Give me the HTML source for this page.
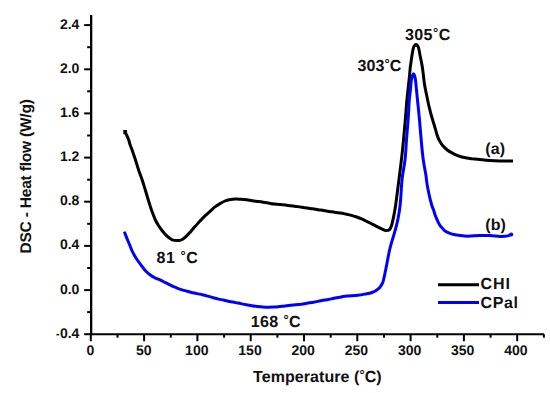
<!DOCTYPE html>
<html><head><meta charset="utf-8"><style>
html,body{margin:0;padding:0;background:#fff;width:550px;height:393px;overflow:hidden}
svg{display:block}
text{text-rendering:geometricPrecision;font-family:"Liberation Sans",sans-serif;fill:#111}
.t{font-size:14px;font-weight:bold}
.y{font-size:15.5px;font-weight:bold;stroke:#111;stroke-width:0.0px}
.a{font-size:16px;font-weight:bold;stroke:#111;stroke-width:0.0px}
</style></head><body>
<svg width="550" height="393" viewBox="0 0 550 393">
<line x1="91.15" y1="15" x2="91.15" y2="335.2" stroke="#000" stroke-width="2.3"/>
<line x1="90.15" y1="334.2" x2="544" y2="334.2" stroke="#000" stroke-width="2"/>
<line x1="84.15" y1="334.2" x2="91.15" y2="334.2" stroke="#000" stroke-width="2"/>
<rect x="56.4" y="333.9" width="2.8" height="1.5" fill="#111"/>
<text x="79.4" y="337.7" text-anchor="end" class="t">0.4</text>
<line x1="87.15" y1="312.1" x2="91.15" y2="312.1" stroke="#000" stroke-width="2"/>
<line x1="84.15" y1="290.1" x2="91.15" y2="290.1" stroke="#000" stroke-width="2"/>
<text x="79.4" y="293.6" text-anchor="end" class="t">0.0</text>
<line x1="87.15" y1="268.0" x2="91.15" y2="268.0" stroke="#000" stroke-width="2"/>
<line x1="84.15" y1="245.9" x2="91.15" y2="245.9" stroke="#000" stroke-width="2"/>
<text x="79.4" y="249.4" text-anchor="end" class="t">0.4</text>
<line x1="87.15" y1="223.8" x2="91.15" y2="223.8" stroke="#000" stroke-width="2"/>
<line x1="84.15" y1="201.7" x2="91.15" y2="201.7" stroke="#000" stroke-width="2"/>
<text x="79.4" y="205.2" text-anchor="end" class="t">0.8</text>
<line x1="87.15" y1="179.7" x2="91.15" y2="179.7" stroke="#000" stroke-width="2"/>
<line x1="84.15" y1="157.6" x2="91.15" y2="157.6" stroke="#000" stroke-width="2"/>
<text x="79.4" y="161.1" text-anchor="end" class="t">1.2</text>
<line x1="87.15" y1="135.5" x2="91.15" y2="135.5" stroke="#000" stroke-width="2"/>
<line x1="84.15" y1="113.4" x2="91.15" y2="113.4" stroke="#000" stroke-width="2"/>
<text x="79.4" y="116.9" text-anchor="end" class="t">1.6</text>
<line x1="87.15" y1="91.3" x2="91.15" y2="91.3" stroke="#000" stroke-width="2"/>
<line x1="84.15" y1="69.3" x2="91.15" y2="69.3" stroke="#000" stroke-width="2"/>
<text x="79.4" y="72.8" text-anchor="end" class="t">2.0</text>
<line x1="87.15" y1="47.2" x2="91.15" y2="47.2" stroke="#000" stroke-width="2"/>
<line x1="84.15" y1="25.1" x2="91.15" y2="25.1" stroke="#000" stroke-width="2"/>
<text x="79.4" y="28.6" text-anchor="end" class="t">2.4</text>
<line x1="90.8" y1="334.2" x2="90.8" y2="341.2" stroke="#000" stroke-width="2"/>
<text x="90.5" y="354.5" text-anchor="middle" class="t">0</text>
<line x1="117.5" y1="334.2" x2="117.5" y2="337.7" stroke="#000" stroke-width="2"/>
<line x1="144.1" y1="334.2" x2="144.1" y2="341.2" stroke="#000" stroke-width="2"/>
<text x="143.7" y="354.5" text-anchor="middle" class="t">50</text>
<line x1="170.8" y1="334.2" x2="170.8" y2="337.7" stroke="#000" stroke-width="2"/>
<line x1="197.4" y1="334.2" x2="197.4" y2="341.2" stroke="#000" stroke-width="2"/>
<text x="196.8" y="354.5" text-anchor="middle" class="t">100</text>
<line x1="224.1" y1="334.2" x2="224.1" y2="337.7" stroke="#000" stroke-width="2"/>
<line x1="250.7" y1="334.2" x2="250.7" y2="341.2" stroke="#000" stroke-width="2"/>
<text x="250.0" y="354.5" text-anchor="middle" class="t">150</text>
<line x1="277.4" y1="334.2" x2="277.4" y2="337.7" stroke="#000" stroke-width="2"/>
<line x1="304.0" y1="334.2" x2="304.0" y2="341.2" stroke="#000" stroke-width="2"/>
<text x="303.2" y="354.5" text-anchor="middle" class="t">200</text>
<line x1="330.7" y1="334.2" x2="330.7" y2="337.7" stroke="#000" stroke-width="2"/>
<line x1="357.3" y1="334.2" x2="357.3" y2="341.2" stroke="#000" stroke-width="2"/>
<text x="356.4" y="354.5" text-anchor="middle" class="t">250</text>
<line x1="384.0" y1="334.2" x2="384.0" y2="337.7" stroke="#000" stroke-width="2"/>
<line x1="410.6" y1="334.2" x2="410.6" y2="341.2" stroke="#000" stroke-width="2"/>
<text x="409.6" y="354.5" text-anchor="middle" class="t">300</text>
<line x1="437.3" y1="334.2" x2="437.3" y2="337.7" stroke="#000" stroke-width="2"/>
<line x1="463.9" y1="334.2" x2="463.9" y2="341.2" stroke="#000" stroke-width="2"/>
<text x="462.7" y="354.5" text-anchor="middle" class="t">350</text>
<line x1="490.6" y1="334.2" x2="490.6" y2="337.7" stroke="#000" stroke-width="2"/>
<line x1="517.2" y1="334.2" x2="517.2" y2="341.2" stroke="#000" stroke-width="2"/>
<text x="515.9" y="354.5" text-anchor="middle" class="t">400</text>
<line x1="543.9" y1="334.2" x2="543.9" y2="337.7" stroke="#000" stroke-width="2"/>
<path d="M124.8 132.0 C125.1 132.5 125.9 133.7 126.6 135.0 C127.2 136.3 128.1 138.3 128.7 140.0 C129.3 141.7 129.6 143.3 130.2 145.0 C130.8 146.7 131.5 148.3 132.1 150.0 C132.7 151.7 133.2 153.3 133.8 155.0 C134.4 156.7 134.7 157.5 135.5 160.0 C136.3 162.5 137.5 166.7 138.6 170.0 C139.7 173.3 141.1 176.7 142.2 180.0 C143.3 183.3 144.3 186.7 145.3 190.0 C146.3 193.3 147.3 196.7 148.3 200.0 C149.3 203.3 150.3 206.7 151.5 210.0 C152.7 213.3 154.2 217.4 155.4 220.0 C156.6 222.6 157.5 223.9 158.5 225.5 C159.5 227.1 160.5 228.5 161.5 229.8 C162.5 231.1 163.2 232.0 164.3 233.2 C165.4 234.4 166.9 236.0 168.2 237.1 C169.5 238.2 170.8 239.2 172.3 239.8 C173.8 240.4 175.7 240.5 177.2 240.5 C178.7 240.5 179.8 240.7 181.3 240.0 C182.8 239.3 184.8 237.6 186.2 236.3 C187.6 235.0 188.5 234.0 190.0 232.4 C191.5 230.8 193.3 228.5 195.0 226.6 C196.7 224.7 198.3 222.8 200.0 221.0 C201.7 219.2 203.3 217.5 205.0 215.9 C206.7 214.3 208.3 212.8 210.0 211.3 C211.7 209.8 213.3 208.2 215.0 206.9 C216.7 205.6 218.3 204.6 220.0 203.6 C221.7 202.6 223.4 201.7 225.0 201.0 C226.6 200.3 227.6 200.0 229.4 199.7 C231.2 199.4 233.9 199.1 235.9 199.0 C237.9 198.9 239.6 199.2 241.4 199.3 C243.2 199.4 245.0 199.6 246.8 199.8 C248.6 200.1 250.5 200.5 252.3 200.8 C254.1 201.1 255.9 201.3 257.7 201.5 C259.5 201.7 261.4 201.9 263.2 202.2 C265.0 202.5 266.8 202.8 268.6 203.1 C270.4 203.4 272.2 203.8 274.1 204.0 C276.0 204.2 278.1 204.4 280.0 204.6 C281.9 204.8 283.7 204.8 285.5 205.0 C287.3 205.2 289.1 205.6 290.9 205.8 C292.7 206.1 294.6 206.3 296.4 206.5 C298.2 206.7 300.0 206.9 301.8 207.2 C303.6 207.5 305.5 207.8 307.3 208.1 C309.1 208.4 310.9 208.5 312.7 208.8 C314.5 209.1 316.4 209.4 318.2 209.7 C320.0 210.0 321.8 210.2 323.6 210.5 C325.4 210.8 327.3 211.1 329.1 211.4 C330.9 211.7 332.6 211.9 334.5 212.2 C336.4 212.5 338.6 212.8 340.5 213.1 C342.4 213.4 344.1 213.7 345.9 214.1 C347.7 214.5 349.6 214.9 351.4 215.4 C353.2 215.9 355.0 216.4 356.8 217.0 C358.6 217.6 360.5 218.4 362.3 219.2 C364.1 220.0 365.9 221.0 367.7 221.9 C369.5 222.8 371.4 223.7 373.2 224.6 C375.0 225.5 377.0 226.6 378.6 227.4 C380.2 228.2 381.7 229.0 383.0 229.5 C384.3 230.0 385.4 230.6 386.5 230.6 C387.6 230.6 388.6 230.5 389.5 229.6 C390.4 228.7 391.1 226.9 391.7 225.0 C392.3 223.1 392.8 220.3 393.3 218.1 C393.8 215.8 394.2 213.8 394.6 211.5 C395.0 209.2 395.5 206.2 395.8 204.0 C396.1 201.8 396.1 202.0 396.6 198.0 C397.1 194.0 398.1 186.3 398.9 180.0 C399.7 173.7 400.6 166.7 401.4 160.0 C402.2 153.3 402.9 146.7 403.5 140.0 C404.1 133.3 404.7 126.7 405.3 120.0 C405.9 113.3 406.4 105.3 406.9 100.0 C407.4 94.7 407.8 91.7 408.2 88.0 C408.6 84.3 408.9 81.5 409.3 78.0 C409.7 74.5 410.0 69.5 410.3 67.0 C410.6 64.5 410.6 64.8 410.9 62.9 C411.2 60.9 411.6 57.8 412.0 55.3 C412.4 52.8 413.0 49.2 413.5 47.6 C414.0 46.0 414.4 45.9 414.8 45.4 C415.2 44.9 415.6 44.6 416.0 44.6 C416.4 44.6 416.8 44.9 417.2 45.4 C417.6 45.9 418.0 46.0 418.5 47.6 C419.0 49.2 419.5 52.8 420.0 55.3 C420.5 57.8 421.2 60.6 421.6 62.9 C422.0 65.2 422.3 66.7 422.6 69.0 C422.9 71.3 423.3 74.3 423.6 77.0 C423.9 79.7 424.1 82.0 424.6 85.0 C425.1 88.0 425.9 91.7 426.6 95.0 C427.3 98.3 427.9 101.7 428.7 105.0 C429.5 108.3 430.3 111.7 431.2 115.0 C432.1 118.3 433.2 121.7 434.2 125.0 C435.2 128.3 436.3 132.5 437.1 135.0 C437.9 137.5 438.2 138.3 439.1 140.0 C440.0 141.7 440.8 143.3 442.2 145.0 C443.6 146.7 445.7 148.7 447.3 150.0 C448.9 151.3 450.4 152.0 452.0 152.9 C453.6 153.8 455.3 154.7 457.0 155.4 C458.7 156.1 460.3 156.6 462.0 157.0 C463.7 157.4 465.3 157.7 467.0 158.0 C468.7 158.3 469.8 158.4 472.0 158.7 C474.2 158.9 477.0 159.2 480.0 159.5 C483.0 159.8 486.7 160.2 490.0 160.5 C493.3 160.8 496.2 160.9 500.0 161.0 C503.8 161.1 510.8 161.0 513.0 161.0" fill="none" stroke="#000" stroke-width="3" stroke-linejoin="round"/>
<rect x="123.3" y="130.0" width="3.8" height="4.2" fill="#000"/>
<path d="M124.4 231.6 C124.6 232.2 125.1 233.6 125.6 235.0 C126.1 236.4 126.9 238.3 127.6 240.0 C128.3 241.7 129.0 243.3 129.7 245.0 C130.4 246.7 130.9 248.3 131.7 250.0 C132.4 251.7 133.3 253.3 134.2 255.0 C135.1 256.7 136.2 258.4 137.3 260.0 C138.4 261.6 139.2 262.6 140.5 264.3 C141.8 266.0 143.4 268.4 145.0 270.2 C146.6 271.9 148.3 273.5 150.0 274.8 C151.7 276.1 153.3 277.0 155.0 277.8 C156.7 278.6 158.3 279.0 160.0 279.8 C161.7 280.6 163.3 281.5 165.0 282.4 C166.7 283.2 168.3 284.1 170.0 284.9 C171.7 285.7 173.2 286.5 175.0 287.2 C176.8 287.9 178.7 288.7 180.5 289.3 C182.3 289.9 184.1 290.4 185.9 290.9 C187.7 291.4 189.6 292.1 191.4 292.5 C193.2 292.9 195.0 293.2 196.8 293.6 C198.6 294.0 200.5 294.3 202.3 294.7 C204.1 295.1 205.9 295.6 207.7 296.1 C209.5 296.6 211.4 297.2 213.2 297.7 C215.0 298.2 216.8 298.7 218.6 299.1 C220.4 299.5 222.3 299.8 224.1 300.2 C225.9 300.6 227.6 301.1 229.5 301.5 C231.4 301.9 233.6 302.2 235.5 302.6 C237.4 303.0 239.1 303.2 240.9 303.6 C242.7 304.0 244.6 304.4 246.4 304.7 C248.2 305.0 250.0 305.4 251.8 305.7 C253.6 306.0 255.5 306.3 257.3 306.5 C259.1 306.7 260.9 306.9 262.7 307.0 C264.5 307.1 266.4 307.2 268.2 307.2 C270.0 307.2 271.8 307.2 273.6 307.1 C275.4 307.0 277.2 306.8 279.1 306.6 C281.0 306.4 282.9 306.1 284.8 305.9 C286.7 305.7 288.6 305.5 290.5 305.3 C292.4 305.1 294.1 305.0 295.9 304.8 C297.7 304.6 299.6 304.4 301.4 304.2 C303.2 303.9 305.0 303.6 306.8 303.3 C308.6 303.0 310.5 302.7 312.3 302.4 C314.1 302.1 315.9 301.8 317.7 301.4 C319.5 301.0 321.4 300.6 323.2 300.3 C325.0 300.0 326.8 299.7 328.6 299.4 C330.4 299.1 332.3 298.6 334.1 298.3 C335.9 298.0 337.7 297.6 339.5 297.3 C341.3 297.0 341.9 296.7 345.0 296.3 C348.1 295.9 354.2 295.6 357.8 295.2 C361.4 294.8 364.3 294.2 366.7 293.8 C369.1 293.4 370.4 293.1 372.0 292.5 C373.6 291.9 375.2 291.1 376.5 290.2 C377.8 289.3 379.0 288.4 380.0 287.2 C381.0 285.9 381.9 284.6 382.7 282.7 C383.4 280.8 383.9 278.3 384.5 275.6 C385.1 272.9 385.7 269.7 386.3 266.7 C386.9 263.7 387.4 260.8 388.0 257.8 C388.6 254.9 389.1 251.8 389.8 249.0 C390.5 246.2 391.4 243.1 392.1 240.7 C392.8 238.3 393.3 236.9 394.0 234.4 C394.7 231.9 395.6 229.0 396.5 225.4 C397.4 221.8 398.4 216.9 399.1 212.7 C399.8 208.5 400.1 205.4 400.6 200.0 C401.1 194.6 401.3 186.7 402.0 180.0 C402.7 173.3 404.2 166.7 405.0 160.0 C405.8 153.3 406.0 146.7 406.5 140.0 C407.0 133.3 407.6 126.7 408.1 120.0 C408.6 113.3 408.9 105.0 409.3 100.0 C409.7 95.0 410.1 93.2 410.4 90.0 C410.7 86.8 410.9 83.4 411.2 81.0 C411.5 78.6 412.0 76.8 412.4 75.6 C412.8 74.4 413.1 73.7 413.5 73.7 C413.9 73.7 414.2 74.4 414.6 75.6 C415.0 76.8 415.3 78.6 415.6 81.0 C415.9 83.4 416.2 86.8 416.5 90.0 C416.8 93.2 417.0 95.0 417.5 100.0 C418.0 105.0 418.9 113.3 419.5 120.0 C420.1 126.7 420.6 133.3 421.2 140.0 C421.8 146.7 422.5 154.2 423.3 160.0 C424.1 165.8 425.2 170.8 425.9 175.0 C426.5 179.2 426.6 181.7 427.2 185.0 C427.8 188.3 428.4 191.7 429.2 195.0 C429.9 198.3 431.0 202.5 431.7 205.0 C432.4 207.5 433.0 208.3 433.6 210.0 C434.2 211.7 434.5 213.3 435.1 215.0 C435.7 216.7 436.4 218.3 437.2 220.0 C438.0 221.7 438.9 223.7 439.7 225.0 C440.5 226.3 441.3 227.0 442.2 228.0 C443.1 229.0 443.7 230.1 445.0 231.0 C446.3 231.9 448.3 232.7 450.0 233.3 C451.7 233.9 453.3 234.3 455.0 234.7 C456.7 235.1 457.8 235.2 460.0 235.5 C462.2 235.8 464.7 236.2 468.0 236.2 C471.3 236.2 476.3 235.6 480.0 235.5 C483.7 235.4 486.7 235.3 490.0 235.5 C493.3 235.7 497.5 236.3 500.0 236.4 C502.5 236.5 503.6 236.4 505.0 236.3 C506.4 236.2 507.5 235.9 508.5 235.6 C509.5 235.3 510.8 234.7 511.2 234.5" fill="none" stroke="#0000ff" stroke-width="3" stroke-linejoin="round"/>
<circle cx="511.2" cy="234.5" r="2.1" fill="#0000ff"/>
<text x="156.5" y="263" class="a" textLength="41.2" lengthAdjust="spacing">81 <tspan font-size="13" dy="-3.4">°</tspan><tspan dy="3.4">C</tspan></text>
<text x="250.8" y="327.0" class="a" textLength="49.7" lengthAdjust="spacing">168 <tspan font-size="13" dy="-3.4">°</tspan><tspan dy="3.4">C</tspan></text>
<text x="357.4" y="71.3" class="a" textLength="43.9" lengthAdjust="spacing">303<tspan font-size="13" dy="-3.4">°</tspan><tspan dy="3.4">C</tspan></text>
<text x="404.9" y="40.2" class="a" textLength="45.3" lengthAdjust="spacing">305<tspan font-size="13" dy="-3.4">°</tspan><tspan dy="3.4">C</tspan></text>
<text x="485.3" y="154" class="a" textLength="19.8" lengthAdjust="spacing">(a)</text>
<text x="485.3" y="229.5" class="a" textLength="20.6" lengthAdjust="spacing">(b)</text>
<line x1="438" y1="284.8" x2="479" y2="284.8" stroke="#000" stroke-width="3"/>
<line x1="438" y1="302.6" x2="479" y2="302.6" stroke="#0000ff" stroke-width="3"/>
<text x="480.4" y="289.3" class="a" textLength="29.6" lengthAdjust="spacing">CHI</text>
<text x="480.4" y="308" class="a" textLength="37.6" lengthAdjust="spacing">CPal</text>
<text x="253.1" y="382.3" class="a" textLength="128.6" lengthAdjust="spacing">Temperature (<tspan font-size="13" dy="-3.4">°</tspan><tspan dy="3.4">C</tspan>)</text>
<text transform="translate(31,253.5) rotate(-90)" x="0" y="0" class="y" textLength="154.4" lengthAdjust="spacing">DSC - Heat flow (W/g)</text>
</svg>
</body></html>
